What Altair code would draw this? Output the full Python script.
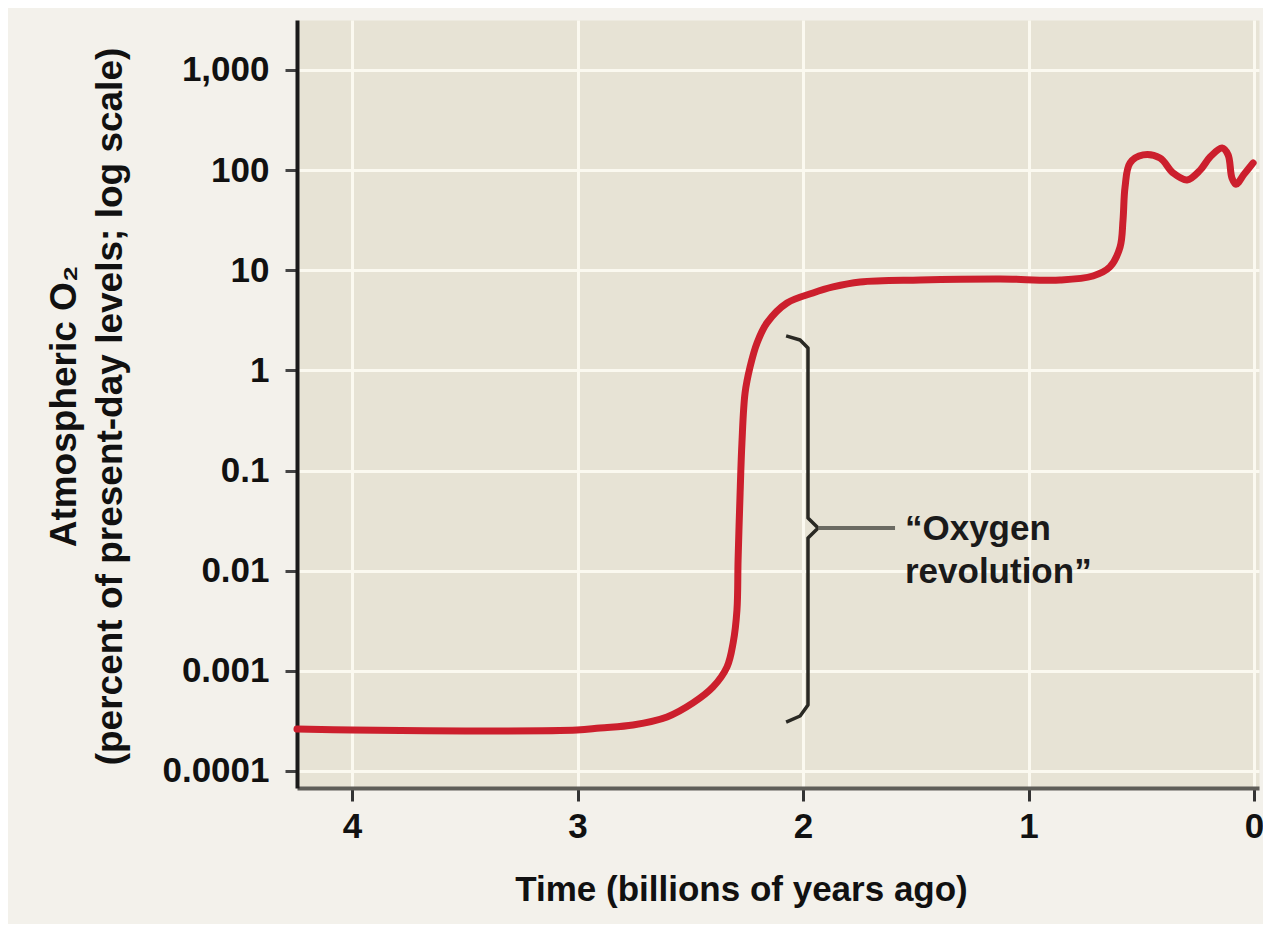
import altair as alt
import pandas as pd

# Curve: time (billions of years ago) and atmospheric O2 (% of present-day level)
TIME = [4.244, 4.0, 3.499, 3.002, 2.900, 2.754, 2.603, 2.488, 2.399, 2.337, 2.310, 2.293,
        2.288, 2.279, 2.271, 2.257, 2.235, 2.204, 2.160, 2.071, 1.956, 1.867, 1.747, 1.481,
        1.126, 0.860, 0.714, 0.639, 0.594, 0.581, 0.572, 0.550, 0.492, 0.417, 0.359, 0.297,
        0.239, 0.195, 0.142, 0.115, 0.098, 0.080, 0.044, 0.004]
O2 = [2.62e-4, 2.56e-4, 2.51e-4, 2.56e-4, 2.69e-4, 2.88e-4, 3.46e-4, 4.78e-4, 6.90e-4,
      1.094e-3, 1.90e-3, 4.06e-3, 0.0128, 0.0597, 0.188, 0.596, 1.08, 1.88, 2.98, 4.71,
      5.93, 6.81, 7.64, 8.00, 8.18, 8.00, 8.77, 10.8, 17.1, 31.8, 67.9, 118, 142, 132,
      93.7, 79.8, 100, 135, 166, 142, 83.6, 72.3, 91.1, 118]

# Bracket marking the "Oxygen revolution"
BRACKET_T = [2.075, 2.013, 1.978, 1.978, 1.933, 1.978, 1.978, 2.013, 2.075]
BRACKET_O2 = [2.21, 2.01, 1.67, 0.0336, 0.0267, 0.0212, 4.56e-4, 3.54e-4, 3.08e-4]
CONNECTOR_T = [1.933, 1.592]
CONNECTOR_O2 = [0.0267, 0.0267]
LABEL_T = [1.548]
LABEL_O2 = [0.0203]
LABEL_LINES = ["\u201cOxygen", "revolution\u201d"]

X_TICKS = [4, 3, 2, 1, 0]
Y_TICKS = [0.0001, 0.001, 0.01, 0.1, 1, 10, 100, 1000]
X_TITLE = "Time (billions of years ago)"
Y_TITLE = ["Atmospheric O\u2082", "(percent of present-day levels; log scale)"]

FONT = "Liberation Sans"

curve = pd.DataFrame({"t": TIME, "o2": O2})
bracket = pd.DataFrame({"t": BRACKET_T, "o2": BRACKET_O2, "i": list(range(len(BRACKET_T)))})
connector = pd.DataFrame({"t": CONNECTOR_T, "o2": CONNECTOR_O2, "i": [0, 1]})
label = pd.DataFrame({"t": LABEL_T, "o2": LABEL_O2})

xscale = alt.Scale(domain=[-0.022, 4.244], reverse=True, nice=False, zero=False)
yscale = alt.Scale(type="log", domain=[6.76e-5, 3155], nice=False)

x_axis = alt.Axis(
    values=X_TICKS, format="d", title=X_TITLE,
    labelFont=FONT, labelFontSize=35, labelFontWeight="bold", labelColor="#111111",
    labelPadding=8, tickSize=13, tickWidth=3, tickColor="#333333",
    domainColor="#5e5d58", domainWidth=4,
    grid=True, gridColor="#fbf9f0", gridWidth=3,
    titleFont=FONT, titleFontSize=35, titleFontWeight="bold", titleColor="#111111",
    titleX=444, titleY=112, titleAlign="center", titleBaseline="alphabetic",
)
y_axis = alt.Axis(
    values=Y_TICKS, format=",~g", title=Y_TITLE,
    labelFont=FONT, labelFontSize=35, labelFontWeight="bold", labelColor="#111111",
    labelPadding=16, tickSize=12, tickWidth=3, tickColor="#444444",
    domainColor="#1a1a1a", domainWidth=4,
    grid=True, gridColor="#fbf9f0", gridWidth=3,
    titleFont=FONT, titleFontSize=37, titleFontWeight="bold", titleColor="#111111",
    titleX=-222, titleY=386, titleAngle=270, titleAlign="center",
    titleBaseline="alphabetic", titleLineHeight=46,
)

line = alt.Chart(curve).mark_line(
    color="#cc1f2d", strokeWidth=7, interpolate="catmull-rom", strokeCap="round",
    strokeJoin="round",
).encode(
    x=alt.X("t:Q", scale=xscale, axis=x_axis),
    y=alt.Y("o2:Q", scale=yscale, axis=y_axis),
    order=alt.Order("t:Q", sort="descending"),
)

brk = alt.Chart(bracket).mark_line(
    color="#2a2924", strokeWidth=3.5, interpolate="linear", strokeJoin="round"
).encode(
    x=alt.X("t:Q", scale=xscale),
    y=alt.Y("o2:Q", scale=yscale),
    order="i:Q",
)

conn = alt.Chart(connector).mark_line(
    color="#6b6a62", strokeWidth=4
).encode(
    x=alt.X("t:Q", scale=xscale),
    y=alt.Y("o2:Q", scale=yscale),
    order="i:Q",
)

txt = alt.Chart(label).mark_text(
    text=LABEL_LINES, align="left", baseline="alphabetic", lineHeight=43,
    font=FONT, fontSize=35, fontWeight="bold", color="#1a1a1a",
).encode(
    x=alt.X("t:Q", scale=xscale),
    y=alt.Y("o2:Q", scale=yscale),
)

chart = alt.layer(line, brk, conn, txt).properties(
    width=962, height=768,
    autosize=alt.AutoSizeParams(type="none"),
    padding={"left": 289, "top": 12, "right": 4, "bottom": 136},
    background="#f3f1eb",
).configure_view(
    fill="#e7e3d5", stroke="transparent"
)

chart.save("out.html", embed_options={"renderer": "svg", "actions": False})
